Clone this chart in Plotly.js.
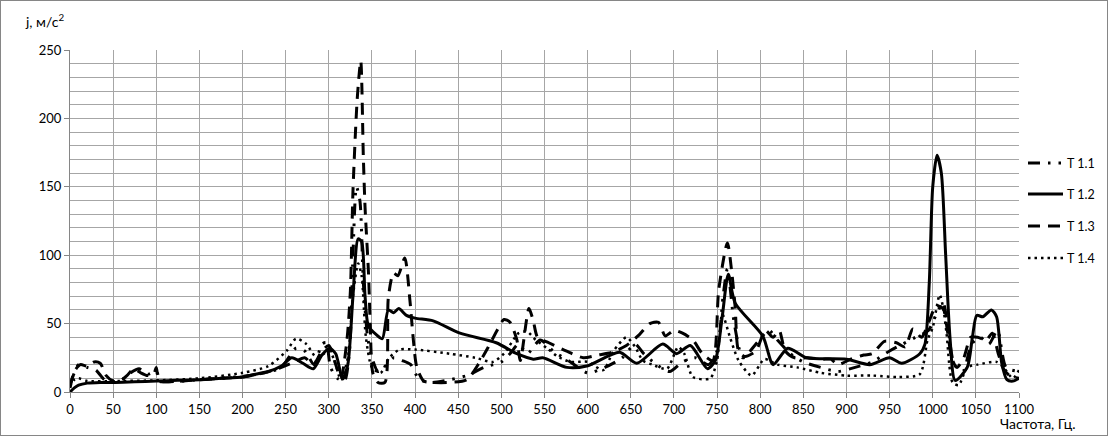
<!DOCTYPE html>
<html>
<head>
<meta charset="utf-8">
<script src="https://cdn.plot.ly/plotly-3.0.1.min.js"></script>
<style>
html,body{margin:0;padding:0;background:#fff;}
#wrap{position:relative;width:1108px;height:436px;}
#chart{width:1108px;height:436px;}
#frame{position:absolute;left:0;top:0;width:1108px;height:436px;box-sizing:border-box;border:1px solid #868686;pointer-events:none;}
</style>
</head>
<body>
<div id="wrap"><div id="chart"></div><div id="frame"></div></div>
<script>
// T 1.1 (dash-dot)
const freq11 = [0,5,10,20,30,40,50,60,70,80,90,100,105,115,130,150,175,200,225,245,262,272,283,292,297,302,310,318,324,328,332,336,340,345,350,357,365,375,385,395,405,420,440,460,480,500,510,520,530,545,560,580,600,620,640,655,665,680,695,710,725,740,750,757,762,770,780,795,810,820,835,850,870,890,910,930,950,965,980,995,1005,1012,1018,1025,1035,1045,1055,1065,1075,1085,1100];
const vals11 = [5,14,20,18,16,9,8,9,14,17,13,15,8,7.5,8,9,10,11.5,14,18,32,30,20,35,36,18,10,8,30,100,150,140,80,40,25,15,18,25,23,20,9,7,9,12,18,22,28,35,28,38,30,22,14,18,25,35,28,20,15,22,25,20,30,70,90,50,25,35,45,38,28,22,18,15,18,22,30,35,40,45,58,65,45,20,15,35,40,35,45,18,15];
// T 1.2 (solid)
const freq12 = [0,5,10,20,35,50,75,100,125,150,175,200,215,230,245,257,270,282,292,301,308,316,322,328,334,338,342,346,355,362,369,375,381,390,400,421,452,494,518,537,548,576,599,637,657,687,703,719,739,748,756,763,771,803,815,832,854,900,927,950,964,985,991,996,1000,1005,1010,1015,1020,1026,1040,1046,1051,1058,1068,1074,1080,1086,1093,1100];
const vals12 = [0,3,5,6.5,7,7,7.5,8,8.5,9,10,11,13,15,19,25,21,17,27,32,28,9.5,20,70,112,110,70,48,42,39,60,58,61,56,54,52,43,36,28,24,25,18,19,29,21,35,28,34,17,23,55,86,65,41,20,32,25,24,20,25,21,28,35,80,150,173,160,100,40,8.5,18,40,56,55,60,55,21,9,8,10];
// T 1.3 (dashed)
const freq13 = [0,5,12,20,28,35,42,50,58,66,74,82,90,97,100,103,110,130,150,175,200,225,245,260,272,282,292,300,307,314,321,325,328,333,337,340,342,346,348,351,357,365,369,375,380,388,394,398,402,410,420,440,460,475,485,495,503,510,518,522,532,537,542,555,575,595,612,628,645,660,672,682,690,700,710,722,733,745,752,762,767,771,775,782,795,806,815,822,829,840,855,872,882,890,905,920,930,944,958,968,977,987,996,1004,1012,1017,1022,1028,1036,1044,1052,1062,1069,1076,1082,1089,1100];
const vals13 = [3,15,20,19,22,21,12,8,8,12,17,14,12,13,18,8,7.5,8,9,10,11,14,18,22,25,20,30,34,22,10,38,74,147,215,242,172,135,87,50,14,7,7,69,87,85,98,67,38,18,8,7,7,9,22,33,45,53,51,38,23,61,52,40,36,30,25,27,29,34,42,50,51,41,45,43,38,28,23,75,109,88,62,30,26,30,45,40,45,30,25,25,24,24,20,24,27,28,37,36,33,46,40,52,63,61,45,25,18,25,40,40,38,43,28,17,12,10];
// T 1.4 (dotted)
const freq14 = [0,5,10,20,50,100,150,200,230,251,262,274,286,300,306,314,322,328,334,338,343,350,360,370,382,400,440,470,490,503,520,530,540,553,565,580,600,618,630,645,655,664,675,692,705,712,722,742,750,756,765,775,790,805,820,843,870,900,930,960,985,994,1000,1008,1012,1016,1023,1030,1040,1052,1074,1082,1093,1100];
const vals14 = [4,9,10,8,8,8.5,10,14,19,30,39,35,25,30,24,9,25,70,94,85,40,18,14,25,31,31,28,25,22,28,43,44,38,32,26,22,22,16,30,40,33,23,20,17,33,28,11,10,23,57,40,23,12,24,20,18,14,12,12,11,13,38,47,71,62,43,7,5,18,20,22,18,10,16];

const seriesNames = ['T 1.1','T 1.2','T 1.3','T 1.4'];
const xTickVals = [0,50,100,150,200,250,300,350,400,450,500,550,600,650,700,750,800,850,900,950,1000,1050,1100];
const yTickVals = [0,50,100,150,200,250];

const FONT = 'Lato, "Liberation Sans", Arial, sans-serif';
const xs = [freq11, freq12, freq13, freq14];
const ys = [vals11, vals12, vals13, vals14];
const dashes = ['12px,8px,2.5px,8px,2.5px,8px', 'solid', '12px,8px', '2.5px,4px'];
const widths = [3, 3, 3, 2.5];

const traces = seriesNames.map((n, i) => ({
  type: 'scatter', mode: 'lines', name: n, x: xs[i], y: ys[i],
  showlegend: false,
  line: {color: '#000', width: widths[i], dash: dashes[i], shape: 'spline', smoothing: 0.7},
  hoverinfo: 'skip'
}));

// legend drawn as shapes + annotations in paper coordinates (plot area: x 70..1019, y 50..392)
const legTop = [163, 194, 226, 258];
const px2x = p => (p - 70) / 949;
const py2y = p => (392 - p) / 342;
const legendShapes = seriesNames.map((n, i) => ({
  type: 'line', xref: 'paper', yref: 'paper',
  x0: px2x(1028), x1: px2x(1063), y0: py2y(legTop[i]), y1: py2y(legTop[i]),
  line: {color: '#000', width: widths[i], dash: dashes[i]}
}));
const legendTexts = seriesNames.map((n, i) => ({
  text: n, xref: 'paper', yref: 'paper', x: px2x(1065), y: py2y(legTop[i]),
  xanchor: 'left', yanchor: 'middle', showarrow: false,
  font: {family: FONT, size: 12.5, color: '#000'}
}));

const layout = {
  width: 1108, height: 436,
  margin: {l: 70, r: 89, t: 50, b: 44, pad: 0},
  paper_bgcolor: '#fff', plot_bgcolor: '#fff',
  font: {family: FONT, size: 13, color: '#000'},
  showlegend: false,
  xaxis: {range: [0, 1100], tickvals: xTickVals, ticktext: xTickVals.map(String), showgrid: true, gridcolor: '#a6a6a6', gridwidth: 1,
          showline: true, linecolor: '#868686', linewidth: 1, ticks: 'outside', ticklen: 5, tickcolor: '#868686',
          zeroline: false, tickfont: {family: FONT, size: 13, color: '#000'}, fixedrange: true},
  yaxis: {range: [0, 250], tickvals: yTickVals, ticktext: yTickVals.map(String), showgrid: true, gridcolor: '#a6a6a6', gridwidth: 1,
          minor: {dtick: 10, tick0: 0, showgrid: true, gridcolor: '#a6a6a6', gridwidth: 1, ticks: ''},
          showline: true, linecolor: '#868686', linewidth: 1, ticks: 'outside', ticklen: 5, tickcolor: '#868686',
          zeroline: false, tickfont: {family: FONT, size: 13, color: '#000'}, fixedrange: true},
  shapes: legendShapes,
  annotations: [
    {text: 'j, м/с<sup>2</sup>', xref: 'paper', yref: 'paper', x: -0.049, y: 1.087, xanchor: 'left', yanchor: 'middle',
     showarrow: false, font: {family: FONT, size: 14, color: '#000'}},
    {text: 'Частота, Гц.', xref: 'paper', yref: 'paper', x: 0.978, y: -0.092, xanchor: 'left', yanchor: 'middle',
     showarrow: false, font: {family: FONT, size: 14, color: '#000'}}
  ].concat(legendTexts)
};

Plotly.newPlot('chart', traces, layout, {staticPlot: true, displayModeBar: false});
</script>
</body>
</html>
